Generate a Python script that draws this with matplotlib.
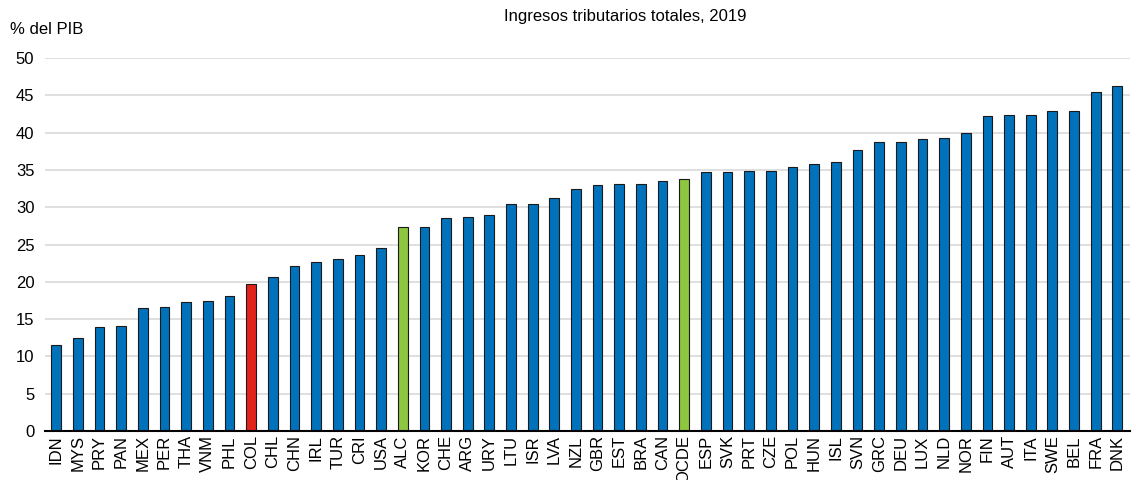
import matplotlib
matplotlib.use("Agg")
import matplotlib.pyplot as plt

plt.rcParams["font.family"] = ["Liberation Sans", "DejaVu Sans"]

#paises e ingresos tributarios (% del PIB), 2019
paises = ["IDN", "MYS", "PRY", "PAN", "MEX", "PER", "THA", "VNM", "PHL", "COL",
          "CHL", "CHN", "IRL", "TUR", "CRI", "USA", "ALC", "KOR", "CHE", "ARG",
          "URY", "LTU", "ISR", "LVA", "NZL", "GBR", "EST", "BRA", "CAN", "OCDE",
          "ESP", "SVK", "PRT", "CZE", "POL", "HUN", "ISL", "SVN", "GRC", "DEU",
          "LUX", "NLD", "NOR", "FIN", "AUT", "ITA", "SWE", "BEL", "FRA", "DNK"]
valores = [11.6, 12.5, 13.9, 14.1, 16.5, 16.6, 17.3, 17.5, 18.1, 19.7,
           20.7, 22.1, 22.6, 23.1, 23.6, 24.5, 27.3, 27.4, 28.5, 28.7,
           29.0, 30.4, 30.5, 31.2, 32.4, 33.0, 33.1, 33.1, 33.5, 33.8,
           34.7, 34.7, 34.8, 34.9, 35.4, 35.8, 36.1, 37.7, 38.7, 38.8,
           39.2, 39.3, 39.9, 42.2, 42.4, 42.4, 42.9, 42.9, 45.4, 46.3]

AZUL = "#0072BC"
ROJO = "#E2231A"
VERDE = "#8DC63F"
destacados = {"COL": ROJO, "ALC": VERDE, "OCDE": VERDE}
colores = [destacados.get(p, AZUL) for p in paises]

fig = plt.figure(figsize=(11.36, 4.8), dpi=100)
ax = fig.add_axes([0.040, 0.102, 0.955, 0.777])

x = range(len(paises))
ax.bar(x, valores, width=0.45, color=colores, edgecolor="#1a1a1a", linewidth=0.8, zorder=3)

ax.set_xlim(-0.5, len(paises) - 0.4)
ax.set_ylim(0, 50)
ax.set_yticks(range(0, 51, 5))
ax.yaxis.grid(True, color="#d9d9d9", linewidth=1.2, zorder=0)
ax.set_axisbelow(True)

ax.set_xticks(list(x))
ax.set_xticklabels(paises, rotation=90, fontsize=12)
ax.tick_params(axis="y", labelsize=12, length=0, pad=8)
ax.tick_params(axis="x", length=0, pad=3)

for s in ["top", "right", "left"]:
    ax.spines[s].set_visible(False)
ax.spines["bottom"].set_color("black")
ax.spines["bottom"].set_linewidth(1.5)
ax.spines["bottom"].set_zorder(4)

fig.text(0.550, 0.965, "Ingresos tributarios totales, 2019", ha="center", va="center", fontsize=12)
fig.text(0.009, 0.938, "% del PIB", ha="left", va="center", fontsize=12)

plt.savefig("out.png", dpi=100)
